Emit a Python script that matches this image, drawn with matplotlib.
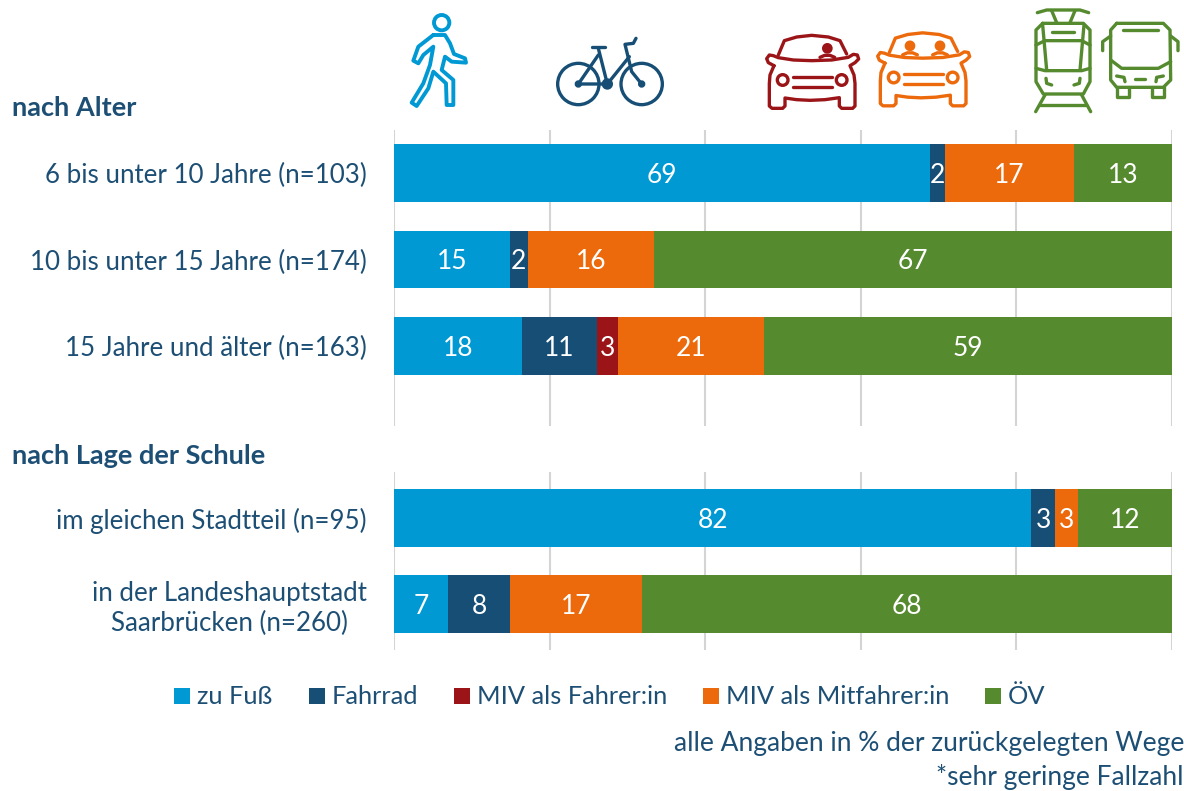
import matplotlib
matplotlib.use('Agg')
import matplotlib.pyplot as plt
from matplotlib.patches import Rectangle, Circle

plt.rcParams['font.family'] = ['Lato', 'DejaVu Sans']

W, H = 1184, 791

text_col = '#1d4f75'
grid_col = '#d4d4d4'
colors = ['#0099d4', '#174e75', '#9b1518', '#ec6a0c', '#568a2f']
series_names = ['zu Fuß', 'Fahrrad', 'MIV als Fahrer:in', 'MIV als Mitfahrer:in', 'ÖV']

# bar lengths, the printed numbers differ a bit
age_cats = ['6 bis unter 10 Jahre (n=103)', '10 bis unter 15 Jahre (n=174)', '15 Jahre und älter (n=163)']
age_fuss = [68.9, 14.9, 16.4]
age_rad = [1.9, 2.3, 9.7]
age_fahrer = [0, 0, 2.7]
age_mit = [16.6, 16.2, 18.8]
age_ov = [12.6, 66.6, 52.4]
age_labels = [['69', '2', '', '17', '13'], ['15', '2', '', '16', '67'], ['18', '11', '3', '21', '59']]

loc_cats = ['im gleichen Stadtteil (n=95)', 'in der Landeshauptstadt\nSaarbrücken (n=260)']
loc_fuss = [81.9, 7.0]
loc_rad = [3.1, 7.9]
loc_fahrer = [0, 0]
loc_mit = [2.9, 17.0]
loc_ov = [12.1, 68.1]
loc_labels = [['82', '3', '', '3', '12'], ['7', '8', '', '17', '68']]


def px_axes(x0, y0, x1, y1):
    return fig.add_axes([x0 / W, 1 - y1 / H, (x1 - x0) / W, (y1 - y0) / H])


def stacked(ax, cats, rows, labels, ylim, height):
    ypos = list(range(len(cats)))
    left = [0] * len(cats)
    for i, vals in enumerate(rows):
        ax.barh(ypos, vals, left=left, height=height, color=colors[i], zorder=3)
        for j, v in enumerate(vals):
            if labels[j][i]:
                ax.text(left[j] + v / 2, j + 0.025, labels[j][i], color='white', fontsize=19,
                        ha='center', va='center', zorder=4)
        left = [a + b for a, b in zip(left, vals)]
    ax.set_xlim(0, 100)
    ax.set_ylim(*ylim)
    ax.set_xticks([0, 20, 40, 60, 80, 100])
    ax.set_yticks(ypos)
    ax.set_yticklabels(cats, color=text_col, fontsize=18.6, ha='right',
                       multialignment='center', linespacing=1.2)
    ax.tick_params(axis='both', length=0, labelbottom=False, pad=19.5)
    ax.grid(axis='x', color=grid_col, lw=1.5, zorder=0)
    for s in ax.spines.values():
        s.set_visible(False)
    ax.patch.set_alpha(0)


def icon(points, col, ox=0, oy=0, lw=2.4, closed=False):
    # points are in zoomed icon coordinates (3x)
    xs = [ox + p[0] / 3 for p in points]
    ys = [oy + p[1] / 3 for p in points]
    if closed:
        xs.append(xs[0])
        ys.append(ys[0])
    bg.plot(xs, ys, color=col, lw=lw, solid_capstyle='round', solid_joinstyle='round')


def ring(x, y, r, col, ox=0, oy=0, lw=2.4, fill=False):
    bg.add_patch(Circle((ox + x / 3, oy + y / 3), r / 3, fc=col if fill else 'none', ec=col, lw=lw))


def car(col, ox, oy, people):
    icon([(85, 165), (103, 122), (140, 111), (185, 106), (235, 111), (270, 122), (290, 162)], col, ox, oy)
    icon([(72, 197), (55, 188), (50, 176), (58, 165), (70, 167), (85, 173), (130, 180), (185, 182),
          (245, 180), (295, 172), (310, 163), (322, 165), (326, 177), (315, 188), (300, 197), (312, 225),
          (315, 250), (315, 318), (308, 325), (275, 325), (268, 318), (268, 293), (225, 299), (180, 301),
          (140, 299), (105, 294), (105, 318), (98, 325), (66, 325), (58, 318), (58, 250), (60, 225)],
         col, ox, oy, closed=True)
    ring(98, 240, 16, col, ox, oy)
    ring(275, 240, 16, col, ox, oy)
    icon([(130, 230), (245, 230)], col, ox, oy)
    icon([(130, 260), (245, 260)], col, ox, oy)
    for px in people:
        ring(px, 145, 11, col, ox, oy, fill=True)
        icon([(px - 22, 172), (px - 8, 166), (px + 8, 166), (px + 22, 172)], col, ox, oy)


fig = plt.figure(figsize=(W / 100, H / 100), dpi=100)

bg = fig.add_axes([0, 0, 1, 1])
bg.set_xlim(0, W)
bg.set_ylim(H, 0)
bg.axis('off')

ax1 = px_axes(394, 130, 1172, 426)
stacked(ax1, age_cats, [age_fuss, age_rad, age_fahrer, age_mit, age_ov], age_labels, (2.925, -0.497), 0.67)
ax2 = px_axes(394, 472, 1172, 650)
stacked(ax2, loc_cats, [loc_fuss, loc_rad, loc_fahrer, loc_mit, loc_ov], loc_labels, (1.535, -0.535), 0.67)

bg.text(12, 108, 'nach Alter', color=text_col, fontsize=19.5, fontweight='bold', va='center')
bg.text(12, 456, 'nach Lage der Schule', color=text_col, fontsize=19.5, fontweight='bold', va='center')

# legend
legend_box_x = [174, 309, 454, 703, 985]
for name, col, x in zip(series_names, colors, legend_box_x):
    bg.add_patch(Rectangle((x, 688), 16, 16, fc=col, ec='none'))
    bg.text(x + 23, 697, name, color=text_col, fontsize=18.3, va='center')

bg.text(1184, 744, 'alle Angaben in % der zurückgelegten Wege', color=text_col, fontsize=19,
        ha='right', va='center')
bg.text(1184, 777, '*sehr geringe Fallzahl', color=text_col, fontsize=19, ha='right', va='center')

# walker
ring(155, 68, 23, colors[0], 390, 0, lw=2.8)
icon([(130, 105), (165, 105), (180, 130), (192, 162), (225, 175), (228, 188), (185, 185), (165, 170),
      (155, 210), (190, 240), (190, 315), (170, 315), (168, 250), (130, 215), (115, 265), (80, 318),
      (65, 308), (100, 250), (120, 195), (130, 140), (100, 165), (85, 190), (70, 182), (85, 140)],
     colors[0], 390, 0, lw=2.8, closed=True)

# bicycle
ring(565, 252, 62, colors[1], 390, 0)
ring(755, 252, 62, colors[1], 390, 0)
ring(652, 252, 12, colors[1], 390, 0, fill=True)
ring(565, 252, 6, colors[1], 390, 0, fill=True)
ring(755, 252, 6, colors[1], 390, 0, fill=True)
icon([(565, 252), (652, 252), (718, 170)], colors[1], 390, 0)
icon([(565, 252), (625, 165)], colors[1], 390, 0)
icon([(625, 145), (652, 252)], colors[1], 390, 0)
icon([(738, 115), (730, 130), (705, 133), (725, 215), (755, 252)], colors[1], 390, 0)
icon([(607, 140), (645, 140)], colors[1], 390, 0)

# cars
car(colors[2], 750, 0, [232])
car(colors[3], 861, -2.5, [147, 237])

# tram
g = colors[4]
icon([(862, 38), (890, 30), (990, 30), (1016, 38)], g, 750, 0)
icon([(905, 32), (920, 68)], g, 750, 0)
icon([(975, 32), (960, 68)], g, 750, 0)
icon([(878, 70), (1000, 70), (1020, 90), (1020, 245), (1000, 282), (880, 282), (858, 245), (858, 90)], g, 750, 0, closed=True)
icon([(905, 97), (972, 97)], g, 750, 0)
icon([(858, 135), (885, 122), (995, 122), (1020, 135)], g, 750, 0)
icon([(858, 205), (885, 212), (995, 212), (1020, 205)], g, 750, 0)
icon([(878, 75), (890, 210)], g, 750, 0)
icon([(1002, 75), (990, 210)], g, 750, 0)
icon([(888, 235), (890, 250), (905, 255)], g, 750, 0)
icon([(990, 235), (988, 250), (972, 255)], g, 750, 0)
icon([(885, 285), (857, 335)], g, 750, 0)
icon([(995, 285), (1022, 335)], g, 750, 0)
icon([(870, 315), (1008, 315)], g, 750, 0)

# bus
icon([(1100, 70), (1240, 70), (1260, 90), (1262, 240), (1240, 262), (1100, 262), (1082, 240), (1082, 90)], g, 750, 0, closed=True)
icon([(1118, 90), (1224, 90)], g, 750, 0)
icon([(1082, 180), (1115, 205), (1225, 205), (1262, 185)], g, 750, 0)
icon([(1082, 108), (1058, 125), (1058, 152)], g, 750, 0)
icon([(1262, 108), (1284, 125), (1284, 152)], g, 750, 0)
icon([(1155, 236), (1186, 236)], g, 750, 0)
icon([(1100, 228), (1122, 232), (1125, 245)], g, 750, 0)
icon([(1240, 228), (1220, 232), (1218, 245)], g, 750, 0)
icon([(1102, 262), (1102, 290), (1138, 290), (1138, 262)], g, 750, 0)
icon([(1205, 262), (1205, 290), (1242, 290), (1242, 262)], g, 750, 0)

fig.savefig('out.png', dpi=100)
